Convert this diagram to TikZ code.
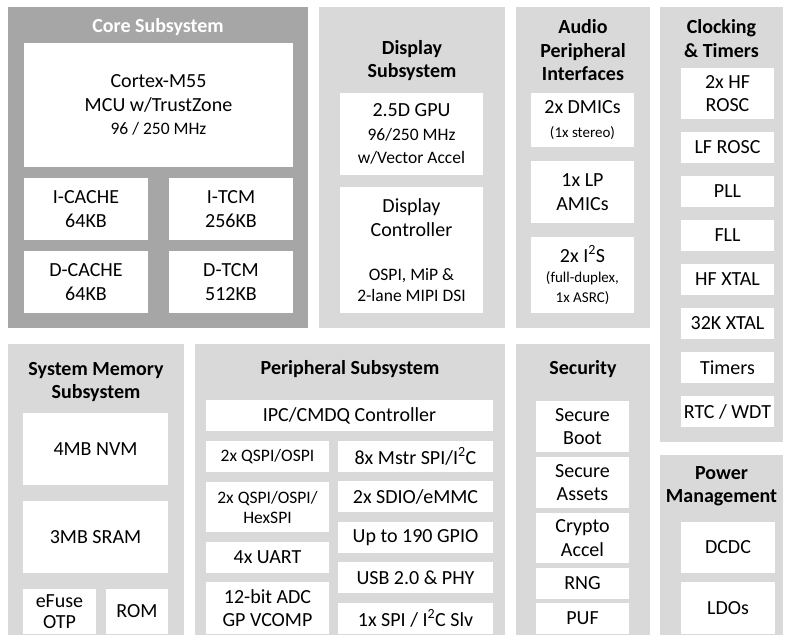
\documentclass[tikz,border=0pt]{standalone}
\usepackage{fontspec}
\setmainfont{Carlito}
\usepackage{xcolor}
\definecolor{grpgray}{HTML}{D9D9D9}
\definecolor{coregray}{HTML}{A6A6A6}
\usepackage{tikz}
\usetikzlibrary{positioning}
\newcommand{\smtxt}{\fontsize{17.5}{20}\selectfont}
\newcommand{\tntxt}{\fontsize{15}{17}\selectfont}
\tikzset{
  grp/.style    ={rectangle, fill=grpgray, anchor=north west, inner sep=0pt, outer sep=0pt},
  coregrp/.style={grp, fill=coregray},
  ttl/.style    ={align=center, inner sep=0pt, yshift=-2pt, font=\fontsize{20}{23.5}\selectfont\bfseries},
  blk/.style    ={rectangle, fill=white, anchor=north west, inner sep=0pt, outer sep=0pt,
                  align=center, font=\fontsize{20}{23.5}\selectfont},
  sblk/.style   ={blk, font=\smtxt},
}

\begin{document}
\begin{tikzpicture}[x=1pt, y=-1pt]
  \useasboundingbox (0,0) rectangle (785,635);
  % top row
  \node[coregrp, minimum width=300pt, minimum height=321pt] (core) at (8,7) {};
  \node[ttl, text=white] (coreT) at (158,25) {Core Subsystem};
  \node[blk, minimum width=269pt, minimum height=124pt] (cpu) at (24,43)
    {Cortex-M55\\MCU w/TrustZone\\{\smtxt 96 / 250 MHz}};
  \node[blk, minimum width=124pt, minimum height=62pt] (icache) at (24,178) {I-CACHE\\64KB};
  \node[blk, minimum width=124pt, minimum height=62pt, right=21pt of icache] (itcm) {I-TCM\\256KB};
  \node[blk, minimum width=124pt, minimum height=62pt, below=11pt of icache] (dcache) {D-CACHE\\64KB};
  \node[blk, minimum width=124pt, minimum height=62pt, right=21pt of dcache] (dtcm) {D-TCM\\512KB};

  \node[grp, minimum width=186pt, minimum height=321pt] (disp) at (319,7) {};
  \node[ttl] (dispT) at (412,58.5) {Display\\Subsystem};
  \node[blk, minimum width=143pt, minimum height=82pt] (gpu) at (340,93)
    {2.5D GPU\\{\smtxt 96/250 MHz}\\{\smtxt w/Vector Accel}};
  \node[blk, minimum width=143pt, minimum height=126pt, below=12pt of gpu] (dctl)
    {Display\\Controller\\[21pt]{\smtxt OSPI, MiP \&}\\[-3pt]{\smtxt 2-lane MIPI DSI}};

  \node[grp, minimum width=134pt, minimum height=321pt] (aud) at (516,7) {};
  \node[ttl] (audT) at (583,48.5) {Audio\\Peripheral\\Interfaces};
  \node[blk, minimum width=103pt, minimum height=54pt] (dmic) at (531,93) {2x DMICs\\{\tntxt (1x stereo)}};
  \node[blk, minimum width=103pt, minimum height=62pt, below=14pt of dmic] (amic) {1x LP\\AMICs};
  \node[blk, minimum width=103pt, minimum height=76pt, below=14pt of amic] (i2s)
    {2x I\textsuperscript{2}S\\[-3pt]{\tntxt (full-duplex,}\\[-4pt]{\tntxt 1x ASRC)}};

  \node[grp, minimum width=123pt, minimum height=435pt] (clk) at (660,7) {};
  \node[ttl] (clkT) at (721.5,36.5) {Clocking\\\& Timers};
  \node[blk, minimum width=93pt, minimum height=51pt] (hfrosc) at (681,68) {2x HF\\ROSC};
  \node[blk, minimum width=93pt, minimum height=31pt, below=13pt of hfrosc] (lfrosc) {LF ROSC};
  \node[blk, minimum width=93pt, minimum height=31pt, below=13pt of lfrosc] (pll) {PLL};
  \node[blk, minimum width=93pt, minimum height=31pt, below=13pt of pll] (fll) {FLL};
  \node[blk, minimum width=93pt, minimum height=31pt, below=13pt of fll] (hfxtal) {HF XTAL};
  \node[blk, minimum width=93pt, minimum height=31pt, below=13pt of hfxtal] (lfxtal) {32K XTAL};
  \node[blk, minimum width=93pt, minimum height=31pt, below=13pt of lfxtal] (timers) {Timers};
  \node[blk, minimum width=93pt, minimum height=31pt, below=13pt of timers] (rtc) {RTC / WDT};

  % bottom row
  \node[grp, minimum width=176pt, minimum height=291pt] (smem) at (8,344) {};
  \node[ttl] (smemT) at (96,380) {System Memory\\Subsystem};
  \node[blk, minimum width=145pt, minimum height=72pt] (nvm) at (23,413) {4MB NVM};
  \node[blk, minimum width=145pt, minimum height=72pt, below=16pt of nvm] (sram) {3MB SRAM};
  \node[blk, minimum width=73pt, minimum height=45pt] (efuse) at (23,589) {eFuse\\[-3pt]OTP};
  \node[blk, minimum width=62pt, minimum height=45pt, right=10pt of efuse] (rom) {ROM};

  \node[grp, minimum width=310pt, minimum height=291pt] (peri) at (195,344) {};
  \node[ttl] (periT) at (350,367) {Peripheral Subsystem};
  \node[blk, minimum width=287pt, minimum height=31pt] (ipc) at (206,400) {IPC/CMDQ Controller};
  \node[sblk, minimum width=123pt, minimum height=31pt] (qspi) at (206,441) {2x QSPI/OSPI};
  \node[sblk, minimum width=123pt, minimum height=50pt, below=10pt of qspi] (hexspi) {2x QSPI/OSPI/\\HexSPI};
  \node[blk, minimum width=123pt, minimum height=31pt, below=10pt of hexspi] (uart) {4x UART};
  \node[blk, minimum width=123pt, minimum height=52pt, below=9pt of uart] (adc) {12-bit ADC\\GP VCOMP};
  \node[blk, minimum width=155pt, minimum height=31pt] (mspi) at (338,441) {8x Mstr SPI/I\textsuperscript{2}C};
  \node[blk, minimum width=155pt, minimum height=31pt, below=9pt of mspi] (sdio) {2x SDIO/eMMC};
  \node[blk, minimum width=155pt, minimum height=31pt, below=10pt of sdio] (gpio) {Up to 190 GPIO};
  \node[blk, minimum width=155pt, minimum height=31pt, below=9pt of gpio] (usb) {USB 2.0 \& PHY};
  \node[blk, minimum width=155pt, minimum height=31pt, below=10pt of usb] (sslv) {1x SPI / I\textsuperscript{2}C Slv};

  \node[grp, minimum width=134pt, minimum height=291pt] (sec) at (516,344) {};
  \node[ttl] (secT) at (583,367) {Security};
  \node[blk, minimum width=93pt, minimum height=51pt] (sboot) at (536,401) {Secure\\Boot};
  \node[blk, minimum width=93pt, minimum height=51pt, below=5pt of sboot] (sasset) {Secure\\Assets};
  \node[blk, minimum width=93pt, minimum height=50pt, below=5pt of sasset] (crypto) {Crypto\\Accel};
  \node[blk, minimum width=93pt, minimum height=31pt, below=5pt of crypto] (rng) {RNG};
  \node[blk, minimum width=93pt, minimum height=31pt, below=4pt of rng] (puf) {PUF};

  \node[grp, minimum width=123pt, minimum height=180pt] (pwr) at (660,455) {};
  \node[ttl] (pwrT) at (721.5,484) {Power\\Management};
  \node[blk, minimum width=94pt, minimum height=51pt] (dcdc) at (681,522) {DCDC};
  \node[blk, minimum width=94pt, minimum height=52pt, below=9pt of dcdc] (ldo) {LDOs};
\end{tikzpicture}
\end{document}
